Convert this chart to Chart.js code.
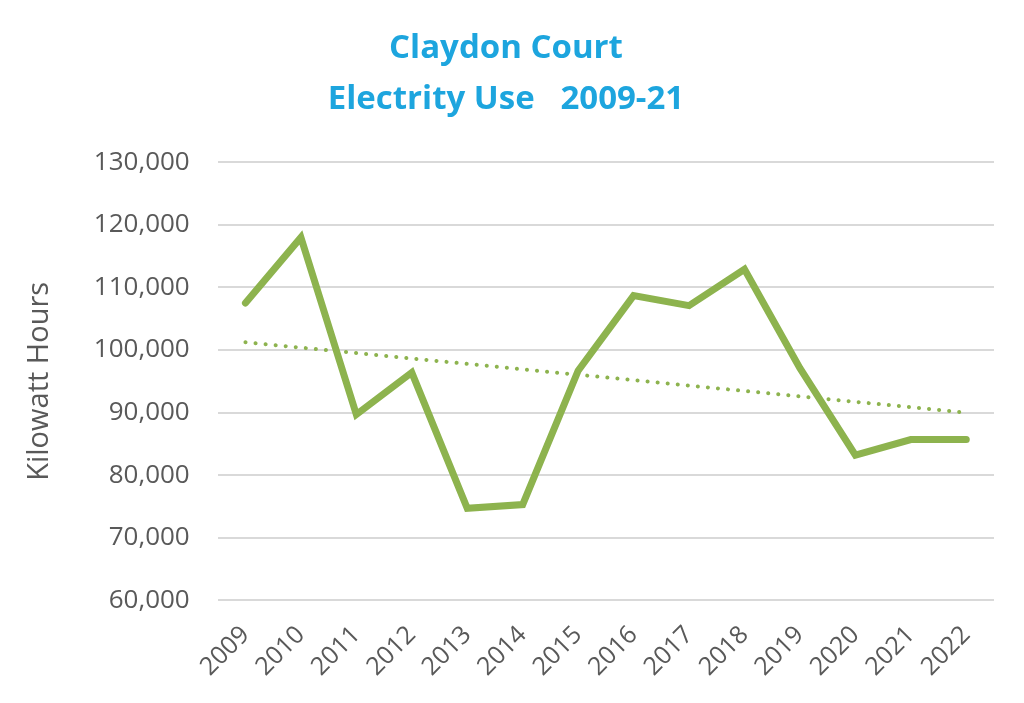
<!DOCTYPE html>
<html>
<head>
<meta charset="utf-8">
<script src="https://cdn.jsdelivr.net/npm/chart.js@4"></script>
<style>
  html, body { margin: 0; padding: 0; background: #fff; }
  #wrap { width: 1024px; height: 703px; }
</style>
</head>
<body>
<div id="wrap"><canvas id="usoChart" width="1024" height="703"></canvas></div>
<script>
const ANIOS = ['2009', '2010', '2011', '2012', '2013', '2014', '2015',
               '2016', '2017', '2018', '2019', '2020', '2021', '2022'];
const KWH = [107500, 118000, 89700, 96400, 74700, 75300, 96700,
             108700, 107100, 112900, 97100, 83200, 85700, 85700];
const TITULO = ['Claydon Court', 'Electrity Use   2009-21'];
const EJE_Y = 'Kilowatt Hours';

// tendencia lineal (minimos cuadrados), como la de Excel
const tendencia = (valores) => {
    const n = valores.length;
    const mx = (n - 1) / 2;
    const my = valores.reduce((a, b) => a + b, 0) / n;
    let num = 0, den = 0;
    valores.forEach((v, i) => {
        num += (i - mx) * (v - my);
        den += (i - mx) * (i - mx);
    });
    const m = num / den;
    return valores.map((_, i) => my + m * (i - mx));
};

const VERDE = '#8db34e';
const GRIS = '#595959';

const ctx = document.getElementById('usoChart').getContext('2d');
new Chart(ctx, {
    type: 'line',
    data: {
        labels: ANIOS,
        datasets: [{
            label: 'kWh',
            data: KWH,
            borderColor: VERDE,
            borderWidth: 7,
            pointRadius: 0,
            tension: 0,
            borderJoinStyle: 'miter',
            borderCapStyle: 'round'
        }, {
            label: 'Tendencia',
            data: tendencia(KWH),
            borderColor: VERDE,
            borderWidth: 4,
            borderDash: [0.1, 10],
            borderCapStyle: 'round',
            pointRadius: 0
        }]
    },
    options: {
        responsive: false,
        animation: false,
        layout: { padding: { top: 23, right: 30, bottom: 1, left: 18 } },
        plugins: {
            legend: { display: false },
            tooltip: { enabled: false },
            title: {
                display: true,
                text: TITULO,
                color: '#1da5de',
                font: { family: 'Open Sans', size: 33, weight: 'bold', lineHeight: 1.55 },
                padding: { top: 0, bottom: 37 }
            }
        },
        scales: {
            x: {
                offset: true,
                grid: { display: false, drawTicks: false },
                border: { display: false },
                ticks: {
                    color: GRIS,
                    font: { family: 'Open Sans', size: 25 },
                    maxRotation: 45,
                    minRotation: 45,
                    padding: 20
                }
            },
            y: {
                min: 60000,
                max: 130000,
                grid: { color: '#d9d9d9', lineWidth: 2, drawTicks: false },
                border: { display: false },
                ticks: {
                    stepSize: 10000,
                    color: GRIS,
                    font: { family: 'Open Sans', size: 26 },
                    padding: 28,
                    callback: v => v.toLocaleString('en-US')
                },
                title: {
                    display: true,
                    text: EJE_Y,
                    color: GRIS,
                    font: { family: 'Open Sans', size: 29 },
                    padding: { bottom: 9 }
                }
            }
        }
    }
});
</script>
</body>
</html>
